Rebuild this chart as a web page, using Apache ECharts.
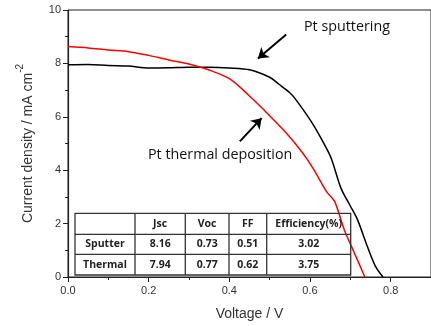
<!DOCTYPE html>
<html><head><meta charset="utf-8">
<script src="https://cdn.jsdelivr.net/npm/echarts@6/dist/echarts.min.js"></script>
<style>html,body{margin:0;padding:0;background:#fff}#c{width:431px;height:326px}</style>
</head><body><div id="c"></div>
<script>
const sputterV = [0, 0.05, 0.1, 0.15, 0.2, 0.25, 0.3, 0.35, 0.4, 0.45, 0.5, 0.523, 0.55, 0.564, 0.604, 0.637, 0.653, 0.677, 0.7, 0.718, 0.742, 0.762, 0.781];
const sputterJ = [7.95, 7.96, 7.92, 7.9, 7.83, 7.84, 7.86, 7.86, 7.83, 7.76, 7.48, 7.22, 6.9, 6.66, 5.8, 4.93, 4.43, 3.32, 2.66, 2.14, 1.15, 0.41, 0];
const thermalV = [0, 0.05, 0.1, 0.15, 0.2, 0.25, 0.3, 0.35, 0.402, 0.45, 0.483, 0.539, 0.58, 0.608, 0.641, 0.661, 0.685, 0.71, 0.736];
const thermalJ = [8.63, 8.58, 8.5, 8.44, 8.3, 8.13, 7.98, 7.75, 7.41, 6.78, 6.3, 5.43, 4.68, 4.06, 3.2, 2.83, 1.77, 0.9, 0];
const tableHeader = ['', 'Jsc', 'Voc', 'FF', 'Efficiency(%)'];
const tableRows = [['Sputter', '8.16', '0.73', '0.51', '3.02'], ['Thermal', '7.94', '0.77', '0.62', '3.75']];
const labelSputter = 'Pt sputtering';
const labelThermal = 'Pt thermal deposition';

const chart = echarts.init(document.getElementById('c'));
const pairs = (xs, ys) => xs.map((x, i) => [x, ys[i]]);

// table graphic
const colX = [75, 135, 185.3, 229, 266.7, 350.7];
const rowY = [213.3, 234.3, 254.3, 275];
const g = [];
g.push({type:'rect', shape:{x:colX[0], y:rowY[0], width:colX[5]-colX[0], height:rowY[3]-rowY[0]}, style:{fill:'none', stroke:'#333', lineWidth:1.3}, z:10});
for (let i = 1; i < 3; i++) g.push({type:'line', shape:{x1:colX[0], y1:rowY[i], x2:colX[5], y2:rowY[i]}, style:{stroke:'#333', lineWidth:1.3}, z:11});
for (let j = 1; j < 5; j++) g.push({type:'line', shape:{x1:colX[j], y1:rowY[0], x2:colX[j], y2:rowY[3]}, style:{stroke:'#333', lineWidth:1.3}, z:11});
const allRows = [tableHeader].concat(tableRows);
allRows.forEach((r, ri) => r.forEach((t, ci) => {
  if (!t) return;
  g.push({type:'text', x:(colX[ci]+colX[ci+1])/2, y:(rowY[ri]+rowY[ri+1])/2, z:12,
    style:{text:t, fill:'#222', font:'bold 10.5px "Open Sans", sans-serif', align:'center', verticalAlign:'middle'}});
}));
g.push({type:'text', left:304, top:20, z:12, style:{text:labelSputter, fill:'#111', font:'14.3px "Open Sans", sans-serif'}});
g.push({type:'text', left:148, top:148, z:12, style:{text:labelThermal, fill:'#111', font:'14.3px "Open Sans", sans-serif'}});

chart.setOption({
  animation:false,
  grid:{left:68, top:10, right:-7, bottom:47, show:true, borderColor:'#222', borderWidth:1},
  xAxis:{type:'value', min:0, max:0.9, interval:0.2,
    name:'Voltage / V', nameLocation:'middle', nameGap:30,
    nameTextStyle:{fontSize:14, color:'#333', fontFamily:'Liberation Sans'},
    axisLine:{lineStyle:{color:'#222', width:1.2}},
    axisTick:{show:true, length:5, lineStyle:{color:'#222'}},
    minorTick:{show:true, splitNumber:2, length:3, lineStyle:{color:'#222'}},
    splitLine:{show:false},
    axisLabel:{fontSize:11, color:'#333', fontFamily:'Liberation Sans', showMaxLabel:false, formatter:v=>v.toFixed(1), margin:8}},
  yAxis:{type:'value', min:0, max:10, interval:2,
    name:'{a|Current density / mA cm}{s|-2}', nameLocation:'middle', nameGap:33,
    nameTextStyle:{rich:{a:{fontSize:14, color:'#333', fontFamily:'Liberation Sans', lineHeight:20, verticalAlign:'bottom'}, s:{fontSize:10, color:'#333', fontFamily:'Liberation Sans', lineHeight:20, verticalAlign:'top'}}},
    axisLine:{show:true, lineStyle:{color:'#222', width:1.2}},
    axisTick:{show:true, length:5, lineStyle:{color:'#222'}},
    minorTick:{show:true, splitNumber:2, length:3, lineStyle:{color:'#222'}},
    splitLine:{show:false},
    axisLabel:{fontSize:11, color:'#333', fontFamily:'Liberation Sans', margin:7}},
  series:[
    {type:'line', name:'Sputter', data:pairs(sputterV, sputterJ), showSymbol:false, lineStyle:{color:'#000', width:1.5}, smooth:0.3,
      markLine:{silent:true, symbol:['none','arrow'], symbolSize:10, label:{show:false}, lineStyle:{color:'#000', width:2, type:'solid'},
        data:[[{coord:[0.541, 9.08]}, {coord:[0.471, 8.18]}], [{coord:[0.426, 5.08]}, {coord:[0.480, 5.95]}]]}},
    {type:'line', name:'Thermal', data:pairs(thermalV, thermalJ), showSymbol:false, lineStyle:{color:'#ff0000', width:1.5}, smooth:0.3}
  ],
  graphic:g
});
</script></body></html>
